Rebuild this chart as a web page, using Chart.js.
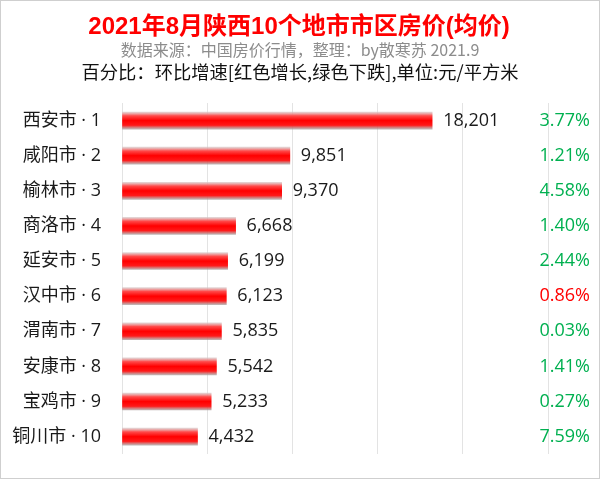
<!DOCTYPE html>
<html>
<head>
<meta charset="utf-8">
<script src="https://cdn.jsdelivr.net/npm/chart.js@4.4.1/dist/chart.umd.min.js"></script>
<style>
    html, body { margin: 0; padding: 0; background: #fff; }
    #wrap { position: relative; width: 600px; height: 479px; box-sizing: border-box; border: 1px solid #cfcfcf; }
    canvas { display: block; }
</style>
</head>
<body>
<div id="wrap"><canvas id="priceChart" width="598" height="477"></canvas></div>
<script>
// ----- data -----
const cities = ['西安市 · 1', '咸阳市 · 2', '榆林市 · 3', '商洛市 · 4', '延安市 · 5', '汉中市 · 6', '渭南市 · 7', '安康市 · 8', '宝鸡市 · 9', '铜川市 · 10'];
const prices = [18201, 9851, 9370, 6668, 6199, 6123, 5835, 5542, 5233, 4432];
const growth = ['3.77%', '1.21%', '4.58%', '1.40%', '2.44%', '0.86%', '0.03%', '1.41%', '0.27%', '7.59%'];
const growthColors = ['#00b050', '#00b050', '#00b050', '#00b050', '#00b050', '#ff0000', '#00b050', '#00b050', '#00b050', '#00b050'];

const titleText = '2021年8月陕西10个地市市区房价(均价)';
const sourceText = '数据来源：中国房价行情，整理：by散寒苏 2021.9';
const noteText = '百分比：环比增速[红色增长,绿色下跌],单位:元/平方米';

// latin glyphs first so "·" and digits stay narrow
const fam = "'Open Sans', 'Noto Sans CJK SC', sans-serif";
const cjk = "'Noto Sans CJK SC', sans-serif";
const barH = 17;

// red tube look for each bar
function barFill(c) {
    const chart = c.chart;
    const yScale = chart.scales.y;
    if (!yScale || !chart.chartArea) return '#ff0000';
    const cy = yScale.getPixelForValue(c.dataIndex);
    const g = chart.ctx.createLinearGradient(0, cy - barH / 2, 0, cy + barH / 2);
    g.addColorStop(0, 'rgba(215,195,195,0.7)');
    g.addColorStop(0.22, '#ff4a4a');
    g.addColorStop(0.5, '#ff0000');
    g.addColorStop(0.78, '#ff1a1a');
    g.addColorStop(1, 'rgba(165,150,150,0.7)');
    return g;
}

// headers, value labels and growth percentages
const textPlugin = {
    id: 'textPlugin',
    afterDatasetsDraw(chart) {
        const ctx = chart.ctx;
        const meta = chart.getDatasetMeta(0);
        ctx.save();
        ctx.textBaseline = 'middle';

        ctx.textAlign = 'center';
        ctx.fillStyle = '#ff0000';
        ctx.font = 'bold 24px ' + "'Liberation Sans', " + cjk;
        ctx.fillText(titleText, 298, 26);
        ctx.fillStyle = '#8c8c8c';
        ctx.font = '16px ' + cjk;
        ctx.fillText(sourceText, 299, 49);
        ctx.fillStyle = '#111';
        ctx.font = '18.3px ' + cjk;
        ctx.fillText(noteText, 299, 71);

        ctx.font = '18px ' + fam;
        meta.data.forEach((bar, i) => {
            ctx.textAlign = 'left';
            ctx.fillStyle = '#1a1a1a';
            ctx.fillText(prices[i].toLocaleString('en-US'), bar.x + 11, bar.y);
            ctx.textAlign = 'right';
            ctx.fillStyle = growthColors[i];
            ctx.fillText(growth[i], 589, bar.y);
        });
        ctx.restore();
    }
};

const ctx = document.getElementById('priceChart').getContext('2d');
new Chart(ctx, {
    type: 'bar',
    data: {
        labels: cities,
        datasets: [{
            data: prices,
            backgroundColor: barFill,
            barThickness: barH,
            borderWidth: 0
        }]
    },
    options: {
        indexAxis: 'y',
        responsive: false,
        animation: false,
        layout: { padding: { top: 102, right: 51, bottom: 18, left: 8 } },
        plugins: {
            legend: { display: false },
            tooltip: { enabled: false }
        },
        scales: {
            x: {
                min: 0,
                max: 25000,
                ticks: { display: false, stepSize: 5000 },
                grid: { color: '#e3e3e3', drawTicks: false },
                border: { display: false }
            },
            y: {
                afterFit(scale) { scale.width = 113; },
                ticks: { color: '#1a1a1a', font: { size: 18, family: fam }, padding: 13 },
                grid: { display: false },
                border: { display: false }
            }
        }
    },
    plugins: [textPlugin]
});
</script>
</body>
</html>
